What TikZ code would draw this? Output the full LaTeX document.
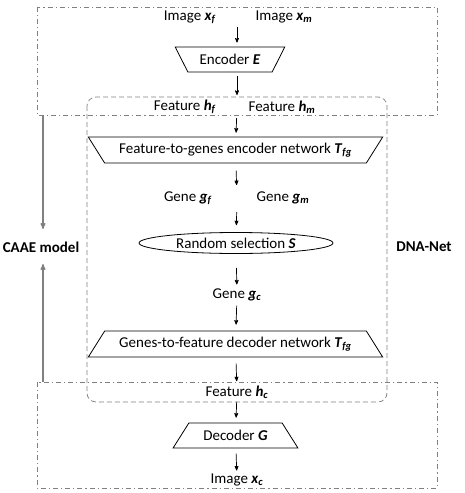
\documentclass[tikz,border=0pt]{standalone}
\usepackage{fontspec}
\setmainfont{Carlito}
\usetikzlibrary{arrows}
\usetikzlibrary{shapes.geometric}
\usetikzlibrary{positioning}
\newcommand{\bi}[2]{\textbf{\textit{#1}}\textsubscript{\textbf{\textit{#2}}}}

\begin{document}
\begin{tikzpicture}[x=1pt,y=-1pt,>=stealth',thick,font=\fontsize{15}{17}\selectfont,
    label node/.style={inner sep=2pt},
    trap node/.style={trapezium,draw,line width=0.8pt,trapezium stretches=true,inner sep=0pt},
    flow/.style={->,line width=0.7pt,shorten <=4pt,shorten >=4pt},
    side arrow/.style={->,gray,line width=1.1pt},
    caae box/.style={gray,line width=0.7pt,dash pattern=on 5pt off 3pt on 1.2pt off 3pt},
    dna box/.style={gray,line width=0.7pt,dash pattern=on 5pt off 3pt,rounded corners=9pt}]
  \useasboundingbox (0,0) rectangle (464,493);
  % boxes
  \draw[caae box] (37,7) rectangle (437,115);
  \draw[caae box] (37,382) rectangle (437,488);
  \draw[dna box] (87,97) rectangle (387,402);
  \coordinate (ctop) at (43,115);
  \coordinate (ctopend) at (43,229);
  \coordinate (cbot) at (43,382);
  \coordinate (cbotend) at (43,264);
  \path[side arrow] (ctop) edge (ctopend);
  \path[side arrow] (cbot) edge (cbotend);
  \node[font=\fontsize{15}{17}\selectfont\bfseries] (caae) at (41,247) {CAAE model};
  \node[font=\fontsize{15}{17}\selectfont\bfseries] (dna) at (424,247) {DNA-Net};

  % flow
  \node[label node] (imgf) at (190,17) {Image \bi{x}{f}};
  \node[label node] (imgm) at (284,17) {Image \bi{x}{m}};
  \coordinate (img) at (237,17);
  \node[trap node,shape border rotate=180,trapezium angle=49,minimum width=110pt,minimum height=25pt] (enc) at (230,59.5) {Encoder \textbf{\textit{E}}};
  \node[label node] (feath) at (185,107) {Feature \bi{h}{f}};
  \node[label node] (featm) at (282,107) {Feature \bi{h}{m}};
  \coordinate (feat) at (237,107);
  \node[trap node,shape border rotate=180,trapezium angle=45,minimum width=295pt,minimum height=26pt] (ftg) at (235.5,150) {Feature-to-genes encoder network \bi{T}{fg}};
  \node[label node] (genef) at (188,198) {Gene \bi{g}{f}};
  \node[label node] (genem) at (283,198) {Gene \bi{g}{m}};
  \coordinate (gene) at (237,198);
  \node[ellipse,draw,line width=0.8pt,minimum width=194pt,minimum height=21pt,inner sep=0pt] (sel) at (236,243) {Random selection \textbf{\textit{S}}};
  \node[label node] (genec) at (237,295) {Gene \bi{g}{c}};
  \node[trap node,trapezium angle=45,minimum width=295pt,minimum height=26pt] (gtf) at (235.5,344) {Genes-to-feature decoder network \bi{T}{fg}};
  \node[label node] (featc) at (237,392) {Feature \bi{h}{c}};
  \node[trap node,trapezium angle=44,minimum width=125pt,minimum height=25pt] (dec) at (235.5,435.5) {Decoder \textbf{\textit{G}}};
  \node[label node] (imgc) at (237,480) {Image \bi{x}{c}};

  \path[flow,shorten <=10pt] (img) edge (enc.north -| img);
  \path[flow,shorten >=12pt] (enc.south -| img) edge (feat);
  \path[flow,shorten <=11pt] (feat) edge (ftg);
  \path[flow,shorten <=7pt,shorten >=13pt] (ftg) edge (gene);
  \path[flow,shorten <=14pt,shorten >=7pt] (gene) edge (sel);
  \path[flow,shorten <=14pt,shorten >=2pt] (sel) edge (genec);
  \path[flow,shorten <=2pt,shorten >=6pt] (genec) edge (gtf);
  \path[flow,shorten <=6pt,shorten >=2pt] (gtf) edge (featc);
  \path[flow,shorten <=1pt,shorten >=5pt] (featc) edge (dec);
  \path[flow,shorten <=5pt,shorten >=1pt] (dec) edge (imgc);
\end{tikzpicture}
\end{document}
